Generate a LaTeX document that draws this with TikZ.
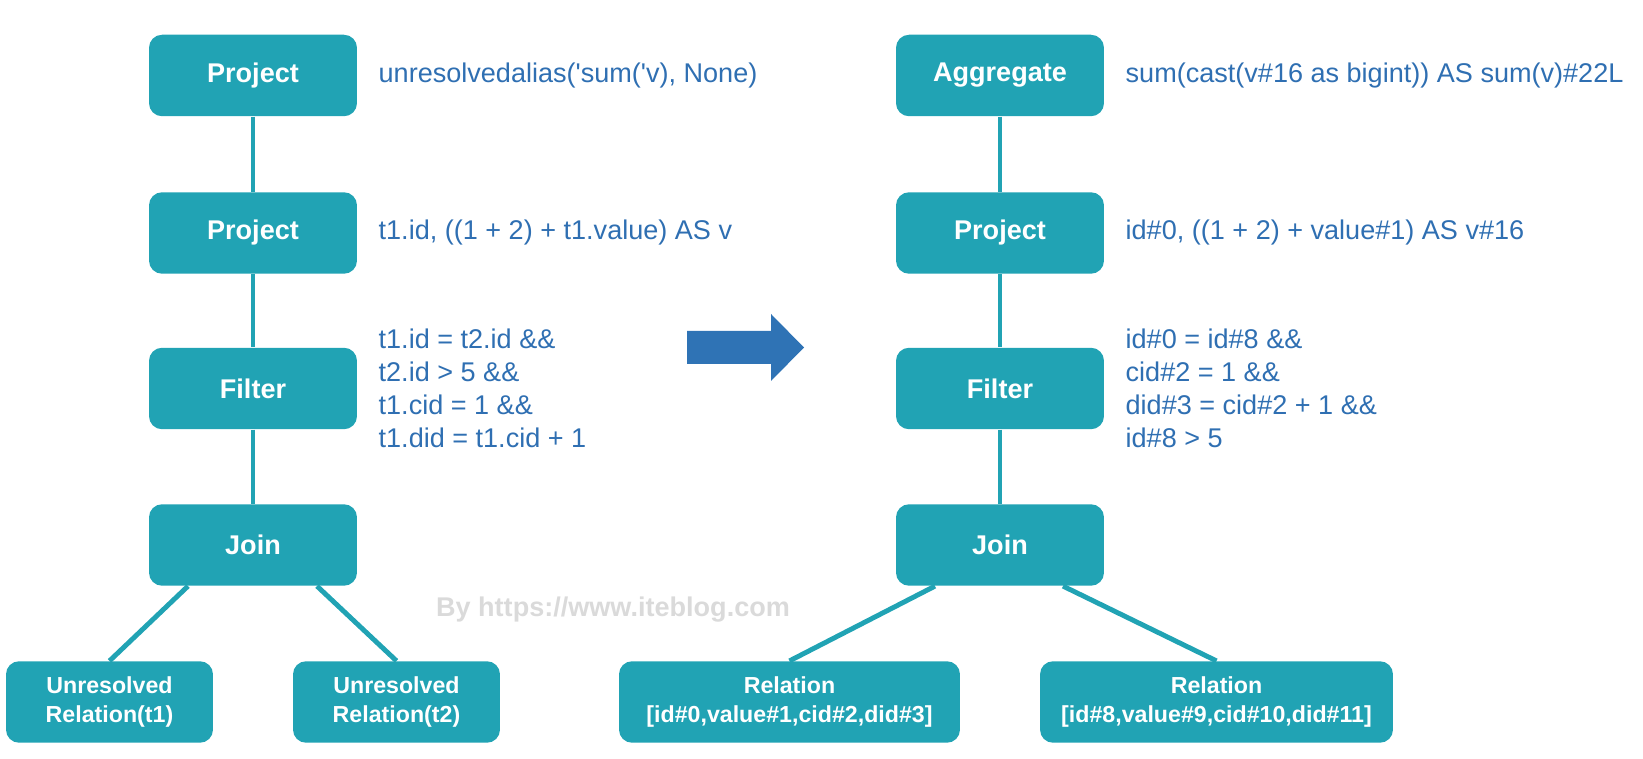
\documentclass[tikz,border=0pt]{standalone}
\usepackage{fontspec}
\setmainfont{Liberation Sans}
\usepackage{tikz}
\definecolor{boxteal}{HTML}{21A3B4}
\definecolor{textblue}{HTML}{2F6FB2}
\definecolor{arrowblue}{HTML}{2F73B5}
\definecolor{markgray}{HTML}{DADADA}

\begin{document}
\begin{tikzpicture}[x=0.02cm, y=-0.02cm,
  op/.style={fill=boxteal, rounded corners=0.26cm, minimum width=4.16cm, minimum height=1.63cm, inner sep=0pt, text=white, font=\bfseries\fontsize{15.4}{18}\selectfont},
  leaf/.style={op, align=center, font=\bfseries\fontsize{13.2}{16.5}\selectfont},
  expr/.style={anchor=west, inner sep=0pt, align=left, text=textblue, font=\fontsize{15.4}{18.8}\selectfont},
  link/.style={draw=boxteal, line width=2.8pt}]
\useasboundingbox (0,0) rectangle (1643,759);

% unresolved plan
\node[op] (lp1) at (253,75.5) {Project};
\node[op] (lp2) at (253,233) {Project};
\node[op] (lf) at (253,388.5) {Filter};
\node[op] (lj) at (253,545) {Join};
\node[leaf, minimum width=4.14cm] (lr1) at (109.5,702) {Unresolved\\Relation(t1)};
\node[leaf, minimum width=4.14cm] (lr2) at (396.5,702) {Unresolved\\Relation(t2)};

\draw[link] (lp1) -- (lp2);
\draw[link] (lp2) -- (lf);
\draw[link] (lf) -- (lj);
\draw[link] ([xshift=-1.3cm]lj.south) -- (lr1.north);
\draw[link] ([xshift=1.28cm]lj.south) -- (lr2.north);

\node[expr] (le1) at ([xshift=0.42cm]lp1.east) {unresolvedalias(\textquotesingle sum(\textquotesingle v), None)};
\node[expr] (le2) at ([xshift=0.42cm]lp2.east) {t1.id, ((1 + 2) + t1.value) AS v};
\node[expr] (le3) at ([xshift=0.42cm]lf.east) {t1.id = t2.id \&\&\\t2.id > 5 \&\&\\t1.cid = 1 \&\&\\t1.did = t1.cid + 1};

% analyzed plan
\node[op] (ra) at (1000,75.5) {Aggregate};
\node[op] (rp) at (1000,233) {Project};
\node[op] (rf) at (1000,388.5) {Filter};
\node[op] (rj) at (1000,545) {Join};
\node[leaf, minimum width=6.82cm] (rr1) at (789.5,702) {Relation\\{[id\#0,value\#1,cid\#2,did\#3]}};
\node[leaf, minimum width=7.06cm] (rr2) at (1216.5,702) {Relation\\{[id\#8,value\#9,cid\#10,did\#11]}};

\draw[link] (ra) -- (rp);
\draw[link] (rp) -- (rf);
\draw[link] (rf) -- (rj);
\draw[link] ([xshift=-1.3cm]rj.south) -- (rr1.north);
\draw[link] ([xshift=1.26cm]rj.south) -- (rr2.north);

\node[expr] (re1) at ([xshift=0.42cm]ra.east) {sum(cast(v\#16 as bigint)) AS sum(v)\#22L};
\node[expr] (re2) at ([xshift=0.42cm]rp.east) {id\#0, ((1 + 2) + value\#1) AS v\#16};
\node[expr] (re3) at ([xshift=0.42cm]rf.east) {id\#0 = id\#8 \&\&\\cid\#2 = 1 \&\&\\did\#3 = cid\#2 + 1 \&\&\\id\#8 > 5};

% big arrow
\fill[arrowblue] (687,331) -- (771,331) -- (771,314) -- (804,347.5) -- (771,381) -- (771,364) -- (687,364) -- cycle;

\node[text=markgray, font=\bfseries\fontsize{15.4}{18}\selectfont] (mark) at (613,610) {By https://www.iteblog.com};
\end{tikzpicture}
\end{document}
